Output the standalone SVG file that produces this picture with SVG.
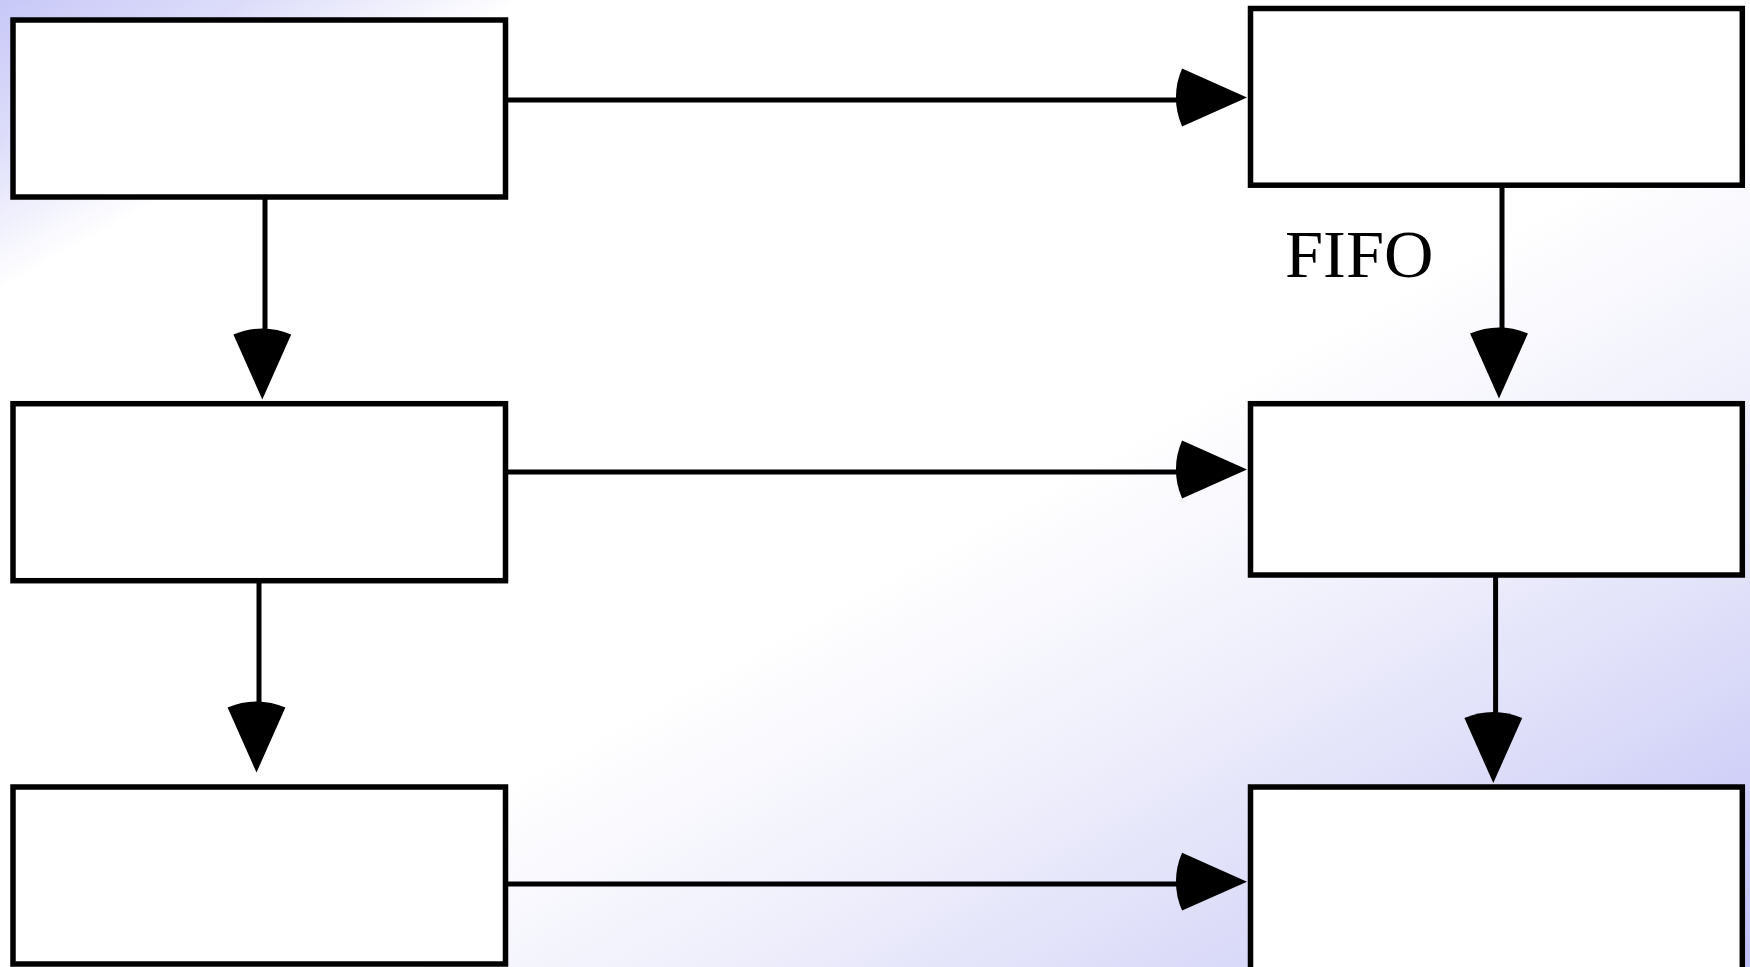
<svg xmlns="http://www.w3.org/2000/svg" width="1750" height="967" viewBox="0 0 1750 967">
  <defs>
    <linearGradient id="bg" x1="0" y1="0" x2="1" y2="1">
      <stop offset="0" stop-color="#c8c8f8"/>
      <stop offset="0.07" stop-color="#dcdcfa"/>
      <stop offset="0.15" stop-color="#ffffff"/>
      <stop offset="0.55" stop-color="#ffffff"/>
      <stop offset="0.7" stop-color="#efeffc"/>
      <stop offset="0.83" stop-color="#dcdcf9"/>
      <stop offset="1" stop-color="#bfbff7"/>
    </linearGradient>
    <path id="head" d="M0,0 L-64.9,-28.9 A71,71 0 0 0 -64.9,28.9 Z" fill="#000"/>
    <style>
      .box { fill: #ffffff; stroke: #000000; stroke-width: 5.5; }
      .conn line { stroke: #000000; stroke-width: 5; fill: none; }
    </style>
  </defs>
  <rect x="0" y="0" width="1750" height="967" fill="url(#bg)"/>

  <g id="connectors" class="conn">
    <line x1="505" y1="100" x2="1185" y2="100"/>
    <use href="#head" transform="translate(1247,97.5)"/>
    <line x1="505" y1="472" x2="1185" y2="472"/>
    <use href="#head" transform="translate(1247,469.5)"/>
    <line x1="505" y1="884" x2="1185" y2="884"/>
    <use href="#head" transform="translate(1247,881.7)"/>
    <line x1="265" y1="197" x2="265" y2="340"/>
    <use href="#head" transform="translate(262.3,399.5) rotate(90)"/>
    <line x1="259" y1="581" x2="259" y2="713"/>
    <use href="#head" transform="translate(256.5,772.5) rotate(90)"/>
    <line x1="1502" y1="185" x2="1502" y2="340"/>
    <use href="#head" transform="translate(1499,398.5) rotate(90)"/>
    <line x1="1495.6" y1="575" x2="1495.6" y2="724"/>
    <use href="#head" transform="translate(1493.3,783) rotate(90)"/>
  </g>

  <g id="node-tl"><rect class="box" x="13" y="20" width="492.5" height="177"/></g>
  <g id="node-tr"><rect class="box" x="1250.5" y="8.5" width="491.8" height="176.7"/></g>
  <g id="node-ml"><rect class="box" x="13" y="403.7" width="492.5" height="177"/></g>
  <g id="node-mr"><rect class="box" x="1250.5" y="403.7" width="491.8" height="171.3"/></g>
  <g id="node-bl"><rect class="box" x="13" y="787" width="492.5" height="177"/></g>
  <g id="node-br"><rect class="box" x="1250.5" y="787" width="491.8" height="200"/></g>

  <g id="label-fifo"><text x="1285" y="277" font-family="'Liberation Serif', 'Times New Roman', Times, serif" font-size="68.5" fill="#000000">FIFO</text></g>
</svg>
